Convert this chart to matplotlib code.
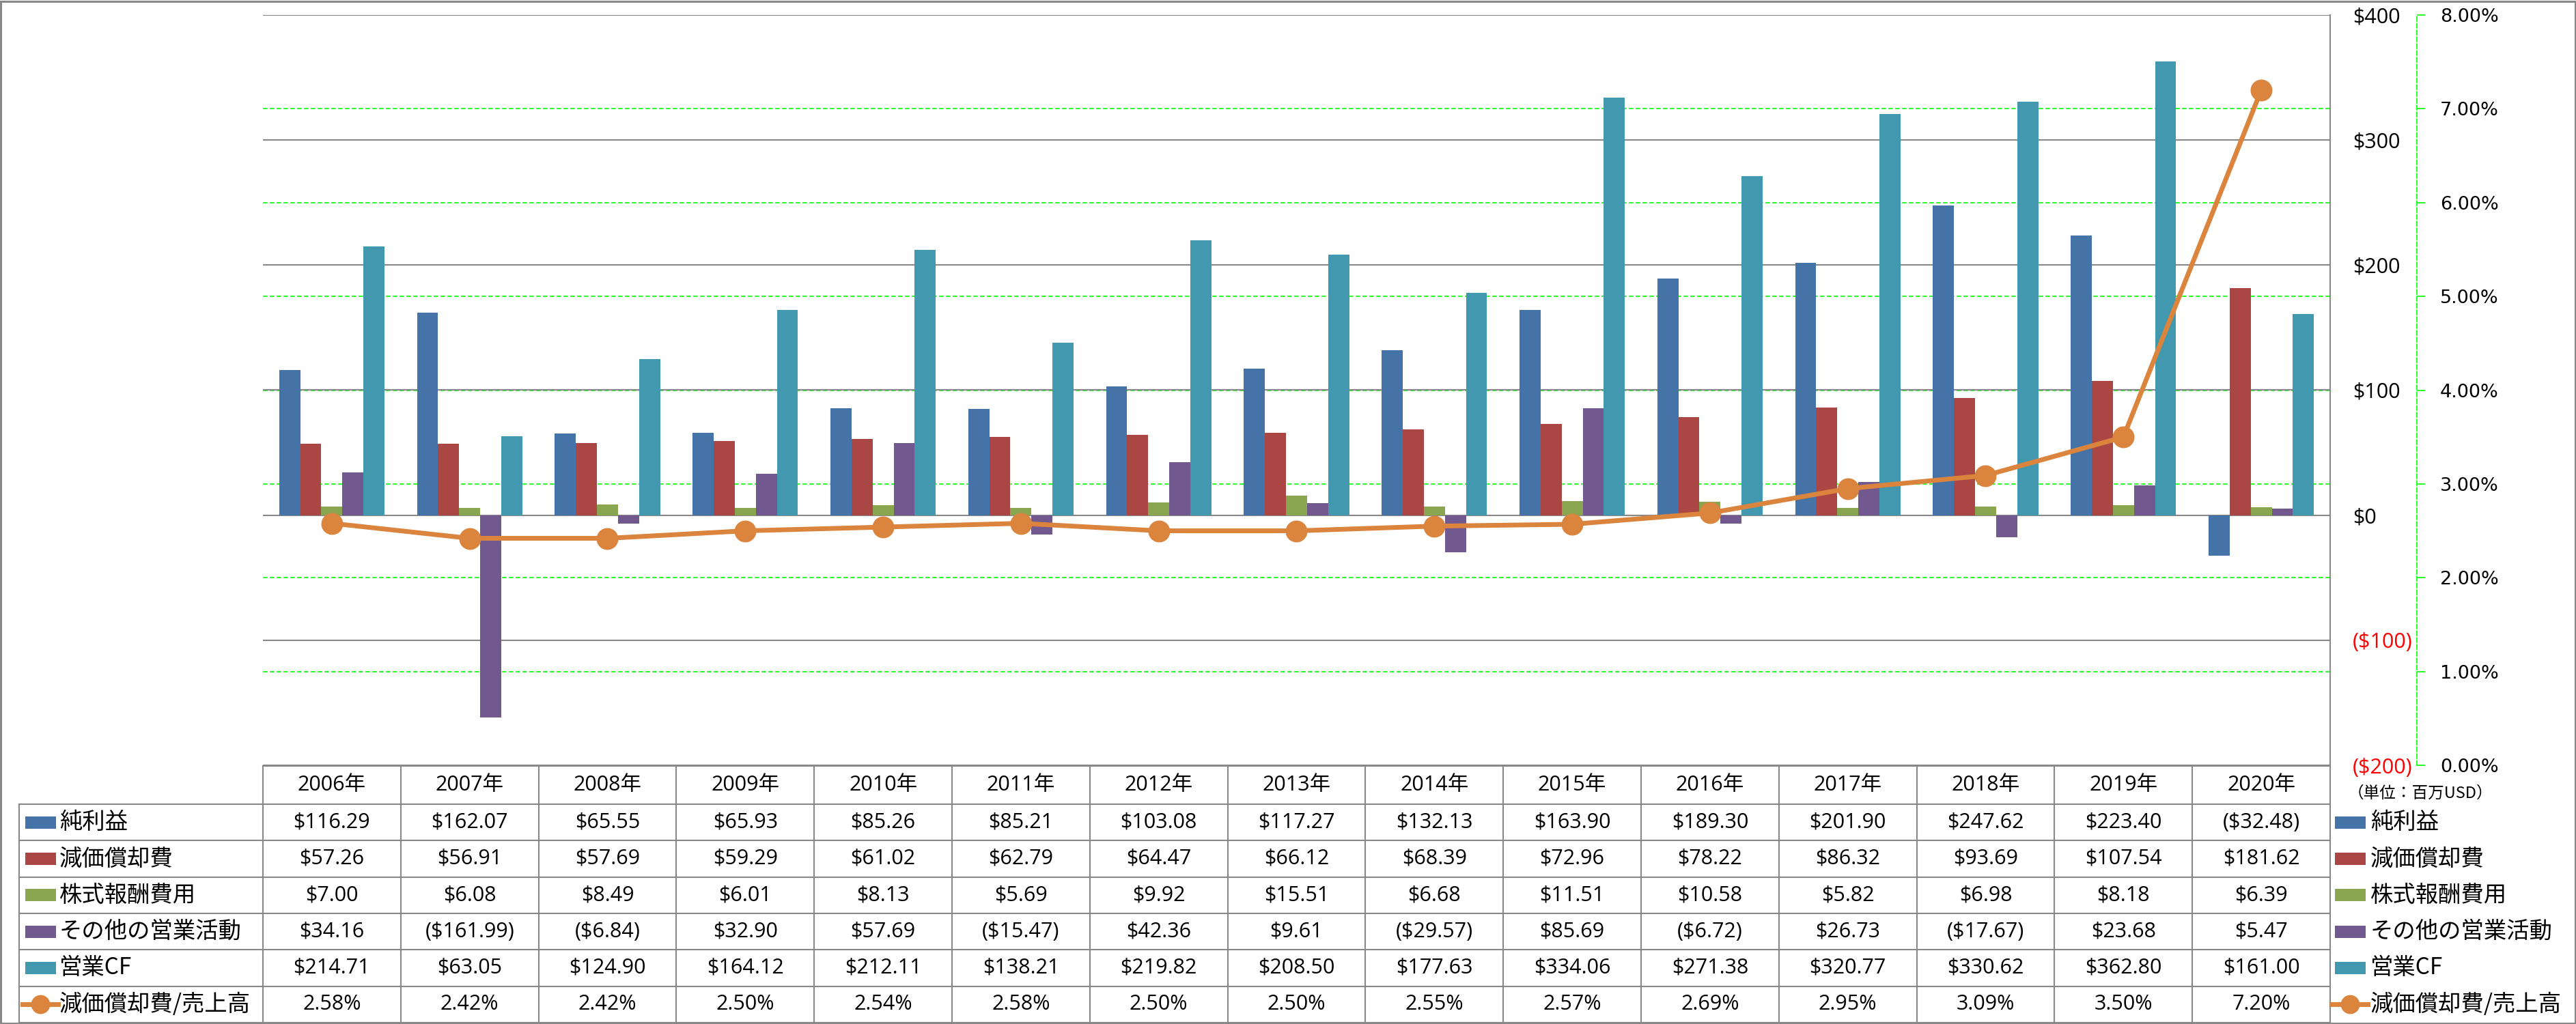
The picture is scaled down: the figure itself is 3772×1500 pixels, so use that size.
import numpy as np
import matplotlib
matplotlib.use('Agg')
import matplotlib.pyplot as plt
from matplotlib.transforms import Affine2D, blended_transform_factory
from matplotlib.patches import Rectangle
from matplotlib.lines import Line2D
from matplotlib.ticker import FuncFormatter

years = ['2006年', '2007年', '2008年', '2009年', '2010年', '2011年', '2012年', '2013年',
         '2014年', '2015年', '2016年', '2017年', '2018年', '2019年', '2020年']
net_income = [116.29, 162.07, 65.55, 65.93, 85.26, 85.21, 103.08, 117.27,
              132.13, 163.90, 189.30, 201.90, 247.62, 223.40, -32.48]
depreciation = [57.26, 56.91, 57.69, 59.29, 61.02, 62.79, 64.47, 66.12,
                68.39, 72.96, 78.22, 86.32, 93.69, 107.54, 181.62]
stock_comp = [7.00, 6.08, 8.49, 6.01, 8.13, 5.69, 9.92, 15.51,
              6.68, 11.51, 10.58, 5.82, 6.98, 8.18, 6.39]
other_ops = [34.16, -161.99, -6.84, 32.90, 57.69, -15.47, 42.36, 9.61,
             -29.57, 85.69, -6.72, 26.73, -17.67, 23.68, 5.47]
op_cf = [214.71, 63.05, 124.90, 164.12, 212.11, 138.21, 219.82, 208.50,
         177.63, 334.06, 271.38, 320.77, 330.62, 362.80, 161.00]
dep_ratio = [2.58, 2.42, 2.42, 2.50, 2.54, 2.58, 2.50, 2.50,
             2.55, 2.57, 2.69, 2.95, 3.09, 3.50, 7.20]

bar_names = ['純利益', '減価償却費', '株式報酬費用', 'その他の営業活動', '営業CF']
bar_colors = ['#4572A7', '#AA4643', '#89A54E', '#71588F', '#4198AF']
line_name = '減価償却費/売上高'
line_color = '#DB843D'
usd_ticks = [-200, -100, 0, 100, 200, 300, 400]
pct_ticks = [0, 1, 2, 3, 4, 5, 6, 7, 8]

plt.rcParams['font.family'] = ['Open Sans', 'Noto Sans CJK JP', 'DejaVu Sans']
JP = ['Noto Sans CJK JP', 'DejaVu Sans']
GRAY = '#888888'

W, H = 3773, 1500
fig = plt.figure(figsize=(W / 100, H / 100), dpi=100)
pix = Affine2D().scale(1 / W, -1 / H).translate(0, 1) + fig.transFigure

L, R, T, B = 385, 3412, 22, 1121
axp = fig.add_axes([L / W, 1 - B / H, (R - L) / W, (B - T) / H])
axd = axp.twinx()
axl = axp.twinx()

x = np.arange(len(years))
for a in (axp, axd, axl):
    a.set_xlim(-0.5, len(years) - 0.5)
    a.tick_params(axis='x', bottom=False, labelbottom=False)
    for s in a.spines.values():
        s.set_visible(False)

# percentage axis (drawn first, green dashed grid)
axp.set_ylim(0, 8)
axp.yaxis.tick_right()
axp.set_yticks(pct_ticks)
axp.yaxis.set_major_formatter(FuncFormatter(lambda v, _: f'{v:.2f}%'))
axp.yaxis.grid(True, color='#00FF00', linestyle=(0, (4, 2)), linewidth=1.2)
axp.set_axisbelow(True)
axp.spines['right'].set_visible(True)
axp.spines['right'].set_position(('outward', 91.4))
axp.spines['right'].set_color('#00FF00')
axp.spines['right'].set_linestyle((0, (4, 2)))
axp.spines['right'].set_linewidth(1.2)
axp.tick_params(axis='y', direction='out', length=8.6, width=1.2, color='#00FF00',
                pad=16, labelsize=19.5, left=False, labelleft=False)
for lab in axp.get_yticklabels():
    lab.set_family('DejaVu Sans')

# dollar axis with bars
axd.set_ylim(-200, 400)
axd.set_axisbelow(True)
usd_labels = [f'(${-v})' if v < 0 else f'${v}' for v in usd_ticks]
axd.set_yticks(usd_ticks, labels=usd_labels)
for lab, v in zip(axd.get_yticklabels(), usd_ticks):
    lab.set_color('#FF0000' if v < 0 else 'black')
axd.tick_params(axis='y', length=0, pad=23.8, labelsize=22)
axd.yaxis.grid(True, color=GRAY, linewidth=1.5)
axd.spines['right'].set_visible(True)
axd.spines['right'].set_color(GRAY)
axd.spines['right'].set_linewidth(1.5)

series = [net_income, depreciation, stock_comp, other_ops, op_cf]
w = 0.153
for k, (vals, col) in enumerate(zip(series, bar_colors)):
    axd.bar(x + (k - 2) * w, vals, w, color=col, zorder=2)

# ratio line on top
axl.set_ylim(0, 8)
axl.set_yticks([])
axl.plot(x, dep_ratio, color=line_color, lw=5, marker='o', ms=22, clip_on=False)

# data table
tx = blended_transform_factory(axd.transData, pix)
row_top = 1178
row_h = 53.3
head_top = 1122
n_rows = 6
line_kw = dict(color=GRAY, linewidth=1.5)

fig.add_artist(Line2D([L, R], [head_top, head_top], transform=pix, **line_kw))
for r in range(n_rows + 1):
    yy = row_top + r * row_h
    fig.add_artist(Line2D([28, R], [yy, yy], transform=pix, **line_kw))
fig.add_artist(Line2D([28, 28], [row_top, row_top + n_rows * row_h], transform=pix, **line_kw))
for i in range(len(years) + 1):
    fig.add_artist(Line2D([i - 0.5, i - 0.5], [head_top, row_top + n_rows * row_h],
                          transform=tx, **line_kw))


def money(v):
    return f'(${-v:.2f})' if v < 0 else f'${v:.2f}'


for i, yr in enumerate(years):
    fig.text(i, (head_top + row_top) / 2, yr, transform=tx, ha='center', va='center',
             fontsize=22)

rows = [[money(v) for v in s] for s in series] + [[f'{v:.2f}%' for v in dep_ratio]]
for r, vals in enumerate(rows):
    yc = row_top + (r + 0.5) * row_h
    for i, s in enumerate(vals):
        fig.text(i, yc, s, transform=tx, ha='center', va='center', fontsize=22)

# legend keys in the row-label column and at the right
names = bar_names + [line_name]
for r, name in enumerate(names):
    yc = row_top + (r + 0.5) * row_h
    for kx, tx0 in ((37, 87), (3419, 3471)):
        if r < len(bar_names):
            fig.add_artist(Rectangle((kx, yc - 9), 45, 18, transform=pix,
                                     color=bar_colors[r], lw=0))
        else:
            fig.add_artist(Line2D([kx - 4, kx + 22, kx + 48], [yc, yc, yc], transform=pix,
                                  color=line_color, lw=5, marker='o', ms=19, markevery=[1]))
        fig.text(tx0, yc, name, transform=pix, ha='left', va='center',
                 fontsize=24, family=JP)

fig.text(3438, 1162, '（単位：百万USD）', transform=pix, ha='left', va='center',
         fontsize=17, family=JP)

# outer frame
fig.add_artist(Rectangle((1.5, 1.5), W - 3, H - 3, transform=pix, fill=False,
                         edgecolor=GRAY, lw=2.2))

fig.savefig('out.png', dpi=100, facecolor='white')
